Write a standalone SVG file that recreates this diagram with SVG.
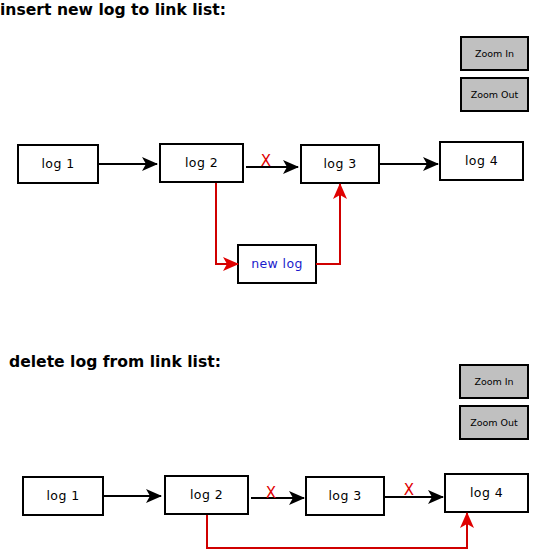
<svg xmlns="http://www.w3.org/2000/svg" width="533" height="550" viewBox="0 0 533 550">
<style>
.title{font-family:"DejaVu Sans",sans-serif;font-weight:bold;font-size:15.6px;fill:#000}
.box{fill:#fff;stroke:#000;stroke-width:2}
.btn{fill:#c0c0c0;stroke:#000;stroke-width:2}
.lbl{font-family:"DejaVu Sans",sans-serif;font-size:12.5px;letter-spacing:0.4px;fill:#000;text-anchor:middle}
.blbl{font-family:"DejaVu Sans",sans-serif;font-size:9.5px;fill:#000;text-anchor:middle}
.blue{fill:#1a1acc}
.x{font-family:"DejaVu Sans",sans-serif;font-size:15px;fill:#e00000;text-anchor:middle}
.blk{fill:none;stroke:#000;stroke-width:2}
.red{fill:none;stroke:#d00000;stroke-width:2}
</style>
<defs>
<marker id="ab" markerUnits="userSpaceOnUse" markerWidth="16" markerHeight="14" refX="15" refY="7" orient="auto">
<path d="M0,0 L16,7 L0,14 L4,7 z" fill="#000"/>
</marker>
<marker id="ar" markerUnits="userSpaceOnUse" markerWidth="16" markerHeight="14" refX="15" refY="7" orient="auto">
<path d="M0,0 L16,7 L0,14 L4,7 z" fill="#e00000"/>
</marker>
</defs>
<text class="title" x="0" y="15">insert new log to link list:</text>
<g id="zoomin1"><rect class="btn" x="461" y="37" width="67" height="33"/><text class="blbl" x="494.5" y="57">Zoom In</text></g>
<g id="zoomout1"><rect class="btn" x="461" y="78" width="67" height="33"/><text class="blbl" x="494.5" y="98">Zoom Out</text></g>
<g id="t-log1"><rect class="box" x="18" y="145" width="80" height="38"/><text class="lbl" x="58" y="168">log 1</text></g>
<g id="t-log2"><rect class="box" x="160" y="144" width="83" height="38"/><text class="lbl" x="201.5" y="167">log 2</text></g>
<g id="t-log3"><rect class="box" x="301" y="145" width="78" height="38"/><text class="lbl" x="340" y="168">log 3</text></g>
<g id="t-log4"><rect class="box" x="440" y="142" width="83" height="38"/><text class="lbl" x="481.5" y="165">log 4</text></g>
<g id="t-newlog"><rect class="box" x="238" y="245" width="78" height="38"/><text class="lbl blue" x="277" y="268">new log</text></g>
<text class="title" x="9" y="367">delete log from link list:</text>
<g id="zoomin2"><rect class="btn" x="460" y="365" width="68" height="33"/><text class="blbl" x="494" y="385">Zoom In</text></g>
<g id="zoomout2"><rect class="btn" x="460" y="406" width="68" height="33"/><text class="blbl" x="494" y="426">Zoom Out</text></g>
<g id="b-log1"><rect class="box" x="23" y="477" width="80" height="38"/><text class="lbl" x="63" y="500">log 1</text></g>
<g id="b-log2"><rect class="box" x="165" y="476" width="83" height="38"/><text class="lbl" x="206.5" y="499">log 2</text></g>
<g id="b-log3"><rect class="box" x="306" y="477" width="78" height="38"/><text class="lbl" x="345" y="500">log 3</text></g>
<g id="b-log4"><rect class="box" x="445" y="474" width="83" height="38"/><text class="lbl" x="486.5" y="497">log 4</text></g>
<g id="connectors">
<path class="blk" d="M98,164 H157" marker-end="url(#ab)"/>
<path class="blk" d="M246,167 H298" marker-end="url(#ab)"/>
<path class="blk" d="M379,164 H438" marker-end="url(#ab)"/>
<path class="red" d="M216,183 V264 H238" marker-end="url(#ar)"/>
<path class="red" d="M316,264 H340 V184" marker-end="url(#ar)"/>
<text class="x" x="266" y="166">X</text>
<path class="blk" d="M103,496 H161" marker-end="url(#ab)"/>
<path class="blk" d="M251,498 H304" marker-end="url(#ab)"/>
<path class="blk" d="M384,497 H443" marker-end="url(#ab)"/>
<path class="red" d="M207,515 V548 H467 V513" marker-end="url(#ar)"/>
<text class="x" x="271" y="498">X</text>
<text class="x" x="409" y="495">X</text>
</g>
</svg>
